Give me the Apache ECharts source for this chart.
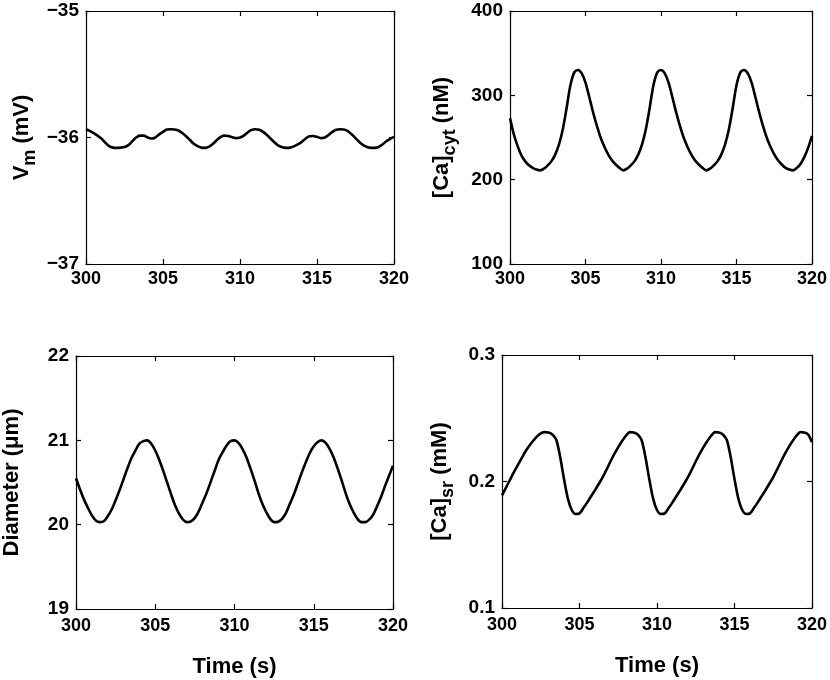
<!DOCTYPE html>
<html>
<head>
<meta charset="utf-8">
<script src="https://cdn.jsdelivr.net/npm/echarts/dist/echarts.min.js"></script>
<style>
html,body{margin:0;padding:0;background:#fff;}
#chart{width:830px;height:680px;}
</style>
</head>
<body>
<div id="chart"></div>
<script>
// ---- data ----
var timeS = [300,300.25,300.5,300.75,301,301.25,301.5,301.75,302,302.25,302.5,302.75,303,303.25,303.5,303.75,304,304.25,304.5,304.75,
305,305.25,305.5,305.75,306,306.25,306.5,306.75,307,307.25,307.5,307.75,308,308.25,308.5,308.75,309,309.25,309.5,309.75,
310,310.25,310.5,310.75,311,311.25,311.5,311.75,312,312.25,312.5,312.75,313,313.25,313.5,313.75,314,314.25,314.5,314.75,
315,315.25,315.5,315.75,316,316.25,316.5,316.75,317,317.25,317.5,317.75,318,318.25,318.5,318.75,319,319.25,319.5,319.75,320];

var vmMV = [-35.935,-35.948,-35.965,-35.985,-36.008,-36.04,-36.068,-36.08,-36.082,-36.08,-36.075,-36.06,-36.03,-36.0,-35.985,-35.985,-36.0,-36.008,-36.0,-35.975,
-35.955,-35.937,-35.935,-35.937,-35.945,-35.965,-35.99,-36.02,-36.05,-36.068,-36.08,-36.082,-36.072,-36.05,-36.02,-35.995,-35.985,-35.988,-35.998,-36.005,
-36.0,-35.985,-35.96,-35.94,-35.935,-35.938,-35.955,-35.98,-36.01,-36.04,-36.065,-36.078,-36.082,-36.08,-36.07,-36.055,-36.035,-36.01,-35.99,-35.988,
-35.995,-36.005,-36.0,-35.98,-35.955,-35.938,-35.935,-35.937,-35.95,-35.975,-36.005,-36.035,-36.06,-36.075,-36.082,-36.082,-36.075,-36.055,-36.03,-36.01,-35.995];

var caCytNM = [273,254,240,229,222,217,214,212,211,213,217,222,230,242,260,285,312,327,330,326,
315,298,280,264,250,239,230,223,218,214,211,213,217,222,230,242,260,285,312,327,
330,326,315,298,280,264,250,239,230,223,218,214,211,213,217,222,230,242,260,285,
312,327,330,326,315,298,280,264,250,239,230,223,218,214,212,211,214,219,227,238,252];

var diameterUM = [20.55,20.42,20.30,20.20,20.11,20.05,20.03,20.04,20.10,20.18,20.29,20.41,20.54,20.67,20.79,20.88,20.96,20.99,21.0,20.96,
20.88,20.77,20.64,20.50,20.36,20.23,20.13,20.06,20.03,20.04,20.08,20.16,20.27,20.38,20.51,20.64,20.77,20.86,20.94,20.99,
21.0,20.97,20.90,20.80,20.67,20.53,20.38,20.25,20.15,20.07,20.03,20.035,20.07,20.14,20.25,20.36,20.49,20.62,20.74,20.85,
20.93,20.98,21.0,20.97,20.90,20.80,20.67,20.53,20.38,20.25,20.15,20.07,20.03,20.03,20.06,20.12,20.22,20.33,20.46,20.58,20.70];

var caSrMM = [0.189,0.195,0.201,0.207,0.2125,0.218,0.2235,0.228,0.232,0.2355,0.238,0.239,0.2387,0.2372,0.233,0.2195,0.202,0.1865,0.1775,0.1743,
0.1748,0.1790,0.1835,0.1883,0.1932,0.1982,0.2035,0.2095,0.2158,0.2218,0.2272,0.2320,0.2362,0.2390,0.2387,0.2372,0.233,0.2195,0.202,0.1865,
0.1775,0.1743,0.1748,0.1790,0.1835,0.1883,0.1932,0.1982,0.2035,0.2095,0.2158,0.2218,0.2272,0.2320,0.2362,0.2390,0.2387,0.2372,0.233,0.2195,
0.202,0.1865,0.1775,0.1743,0.1748,0.1790,0.1835,0.1883,0.1932,0.1982,0.2035,0.2095,0.2158,0.2218,0.2272,0.2320,0.2362,0.2390,0.2387,0.2372,0.231];

var xTicks = {min: 300, max: 320, interval: 5};
var yVm = {min: -37, max: -35, interval: 1};
var yCyt = {min: 100, max: 400, interval: 100};
var yDia = {min: 19, max: 22, interval: 1};
var ySr = {min: 0.1, max: 0.3, interval: 0.1};

// ---- chart ----
var FONT = '"Liberation Sans", Arial, Helvetica, sans-serif';
function pairs(vals){ return timeS.map(function(t,i){ return [t, vals[i]]; }); }

var grids = [
  {left: 86, top: 11, width: 308, height: 253},
  {left: 510, top: 11, width: 307, height: 253},
  {left: 76, top: 356, width: 317, height: 253},
  {left: 502, top: 355, width: 315, height: 253}
];
var yRanges = [yVm, yCyt, yDia, ySr];
var yNames = [
  '{m|V}{s|m}{m| (mV)}',
  '{m|[Ca]}{s|cyt}{m| (nM)}',
  '{m|Diameter (\u03bcm)}',
  '{m|[Ca]}{s|sr}{m| (mM)}'
];
var yGaps = [53, 57, 53, 51];
var xName = [false, false, true, true];

var richStyle = {
  m: {fontSize: 22, fontWeight: 'bold', fontFamily: FONT, color: '#000', lineHeight: 22, verticalAlign: 'top'},
  s: {fontSize: 18, fontWeight: 'bold', fontFamily: FONT, color: '#000', lineHeight: 18, padding: [10,0,0,0], verticalAlign: 'top'}
};

var axLine = {show: true, onZero: false, lineStyle: {color: '#000', width: 1.2}};
var axTick = {show: true, inside: true, length: 5, lineStyle: {color: '#000', width: 1.2}};
var xLbl = {fontSize: 18, fontWeight: 'bold', fontFamily: FONT, color: '#000'};
var yLbl = {fontSize: 19, fontWeight: 'bold', fontFamily: FONT, color: '#000'};

function fmt(v){
  var s = String(Math.round(v*1000)/1000);
  return s.replace('-', '\u2212');
}

var xAxes = [], yAxes = [], series = [];
var vals = [vmMV, caCytNM, diameterUM, caSrMM];
for (var g = 0; g < 4; g++) {
  xAxes.push({
    type: 'value', gridIndex: g, position: 'bottom',
    min: xTicks.min, max: xTicks.max, interval: xTicks.interval,
    axisLine: axLine, axisTick: axTick, splitLine: {show: false},
    axisLabel: Object.assign({margin: g < 2 ? 6 : 8, formatter: fmt}, xLbl),
    name: xName[g] ? 'Time (s)' : '', nameLocation: 'middle', nameGap: 47,
    nameTextStyle: {fontSize: 22, fontWeight: 'bold', fontFamily: FONT, color: '#000'}
  });
  xAxes.push({
    type: 'value', gridIndex: g, position: 'top',
    min: xTicks.min, max: xTicks.max, interval: xTicks.interval,
    axisLine: axLine, axisTick: axTick, splitLine: {show: false},
    axisLabel: {show: false}
  });
  var yr = yRanges[g];
  yAxes.push({
    type: 'value', gridIndex: g, position: 'left',
    min: yr.min, max: yr.max, interval: yr.interval,
    axisLine: axLine, axisTick: axTick, splitLine: {show: false},
    axisLabel: Object.assign({margin: 7, formatter: fmt}, yLbl),
    name: yNames[g], nameLocation: 'middle', nameGap: yGaps[g], nameRotate: 90,
    nameTextStyle: {rich: richStyle, fontSize: 22, fontWeight: 'bold', fontFamily: FONT, color: '#000'}
  });
  yAxes.push({
    type: 'value', gridIndex: g, position: 'right',
    min: yr.min, max: yr.max, interval: yr.interval,
    axisLine: axLine, axisTick: axTick, splitLine: {show: false},
    axisLabel: {show: false}
  });
  series.push({
    type: 'line', xAxisIndex: 2*g, yAxisIndex: 2*g, data: pairs(vals[g]),
    showSymbol: false, smooth: 0.3, lineStyle: {color: '#000', width: 2.6}, silent: true
  });
}

var chart = echarts.init(document.getElementById('chart'), null, {renderer: 'canvas'});
chart.setOption({
  animation: false,
  backgroundColor: '#fff',
  grid: grids,
  xAxis: xAxes,
  yAxis: yAxes,
  series: series
});
</script>
</body>
</html>
